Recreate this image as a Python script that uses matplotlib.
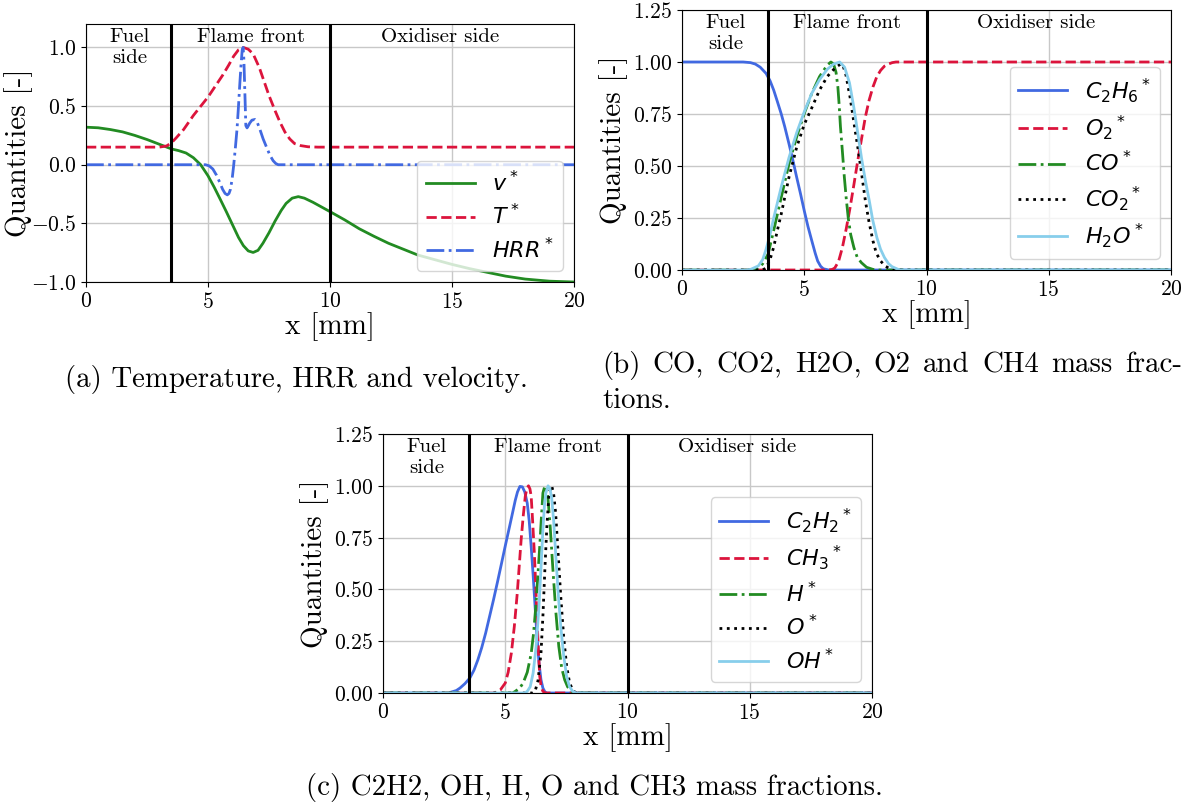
import matplotlib
matplotlib.use("Agg")
import matplotlib.pyplot as plt

plt.rcParams["font.family"] = "serif"
plt.rcParams["font.serif"] = ["cmr10"]
plt.rcParams["mathtext.fontset"] = "cm"
plt.rcParams["axes.formatter.use_mathtext"] = True
plt.rcParams["axes.unicode_minus"] = True

W, H = 1190, 809

# ── data: (a) temperature, HRR, velocity ─────────────────────────────────────
x_v = [0, 0.5, 1, 1.5, 2, 2.5, 3, 3.5, 3.8, 4.1, 4.4, 4.7, 5.0, 5.25, 5.5,
       5.75, 6.0, 6.25, 6.45, 6.65, 6.85, 7.05, 7.25, 7.5, 7.75, 8.0, 8.2,
       8.45, 8.7, 8.95, 9.3, 9.65, 10.0, 10.6, 11.2, 11.8, 12.4, 13.0, 13.6,
       14.3, 15.0, 15.7, 16.5, 17.2, 18.0, 19.0, 20.0]
v_star = [0.32, 0.315, 0.30, 0.28, 0.25, 0.215, 0.175, 0.135, 0.12, 0.10,
          0.06, 0.0, -0.094, -0.19, -0.294, -0.40, -0.51, -0.62, -0.69,
          -0.735, -0.748, -0.73, -0.67, -0.58, -0.48, -0.39, -0.33, -0.285,
          -0.272, -0.285, -0.32, -0.36, -0.40, -0.47, -0.546, -0.61, -0.67,
          -0.72, -0.77, -0.81, -0.85, -0.885, -0.92, -0.95, -0.975, -0.993,
          -1.0]

x_T = [0, 3.0, 3.3, 3.5, 3.7, 4.0, 4.4, 5.0, 5.6, 5.85, 6.05, 6.25, 6.45,
       6.65, 6.85, 7.1, 7.3, 7.5, 7.75, 7.95, 8.15, 8.35, 8.55, 8.8, 9.1,
       9.5, 20]
T_star = [0.15, 0.15, 0.16, 0.186, 0.23, 0.30, 0.42, 0.577, 0.763, 0.85,
          0.925, 0.98, 1.0, 0.985, 0.945, 0.83, 0.71, 0.59, 0.46, 0.363, 0.28,
          0.22, 0.18, 0.163, 0.153, 0.15, 0.15]

x_hrr = [0, 4.9, 5.05, 5.2, 5.35, 5.48, 5.6, 5.7, 5.79, 5.86, 5.92, 5.99,
         6.05, 6.12, 6.19, 6.25, 6.3, 6.35, 6.4, 6.44, 6.47, 6.49, 6.52, 6.55,
         6.6, 6.66, 6.71, 6.8, 6.92, 7.02, 7.12, 7.26, 7.4, 7.54, 7.67, 7.78,
         7.88, 20]
hrr_star = [0, 0, -0.01, -0.037, -0.09, -0.15, -0.21, -0.245, -0.257, -0.245,
            -0.21, -0.12, -0.01, 0.14, 0.306, 0.5, 0.677, 0.84, 0.977, 1.0,
            0.9, 0.76, 0.55, 0.334, 0.314, 0.335, 0.355, 0.38, 0.386, 0.36,
            0.306, 0.22, 0.149, 0.08, 0.034, 0.01, 0, 0]

# ── data: (b) major species ──────────────────────────────────────────────────
x_c2h6 = [0, 2.5, 2.8, 3.0, 3.2, 3.44, 3.6, 3.75, 3.9, 4.06, 4.2, 4.375, 4.53,
          4.69, 4.85, 5.0, 5.15, 5.31, 5.45, 5.55, 5.67, 5.78, 6.0, 20]
c2h6 = [1.0, 1.0, 0.997, 0.99, 0.975, 0.945, 0.91, 0.865, 0.81, 0.75, 0.69,
        0.607, 0.53, 0.446, 0.365, 0.285, 0.21, 0.14, 0.08, 0.043, 0.018,
        0.006, 0, 0]

x_o2 = [0, 6.0, 6.15, 6.25, 6.4, 6.56, 6.72, 6.875, 7.03, 7.19, 7.35, 7.5,
        7.65, 7.81, 7.97, 8.125, 8.28, 8.44, 8.6, 8.75, 20]
o2 = [0, 0, 0.003, 0.01, 0.04, 0.108, 0.20, 0.30, 0.41, 0.527, 0.635, 0.736,
      0.815, 0.88, 0.93, 0.96, 0.98, 0.99, 0.997, 1.0, 1.0]

x_co = [0, 3.0, 3.125, 3.3, 3.52, 3.75, 4.06, 4.375, 4.69, 5.0, 5.31, 5.625,
        5.94, 6.09, 6.2, 6.3, 6.375, 6.43, 6.48, 6.56, 6.64, 6.72, 6.8, 6.9,
        7.03, 7.17, 7.34, 7.55, 7.81, 8.0, 20]
co = [0, 0, 0.01, 0.03, 0.076, 0.19, 0.35, 0.51, 0.64, 0.752, 0.85, 0.93,
      0.985, 1.0, 0.99, 0.95, 0.88, 0.79, 0.69, 0.57, 0.446, 0.34, 0.25, 0.17,
      0.108, 0.06, 0.035, 0.013, 0.003, 0, 0]

x_co2 = [0, 3.3, 3.44, 3.6, 3.75, 3.9, 4.06, 4.375, 4.69, 5.0, 5.31, 5.625,
         5.94, 6.25, 6.48, 6.58, 6.7, 6.875, 7.03, 7.19, 7.35, 7.5, 7.65,
         7.81, 7.95, 8.125, 8.3, 8.44, 8.7, 20]
co2 = [0, 0, 0.01, 0.05, 0.11, 0.19, 0.27, 0.446, 0.59, 0.70, 0.78, 0.865,
       0.93, 0.97, 0.99, 0.985, 0.94, 0.83, 0.71, 0.59, 0.46, 0.333, 0.23,
       0.14, 0.08, 0.043, 0.02, 0.01, 0, 0]

x_h2o = [0, 2.6, 2.81, 3.125, 3.3, 3.44, 3.6, 3.75, 4.06, 4.375, 4.69, 5.0,
         5.31, 5.625, 5.94, 6.2, 6.45, 6.65, 6.85, 7.03, 7.2, 7.34, 7.5, 7.66,
         7.8, 7.97, 8.12, 8.28, 8.45, 8.59, 8.9, 20]
h2o = [0, 0, 0.003, 0.02, 0.05, 0.10, 0.17, 0.25, 0.40, 0.54, 0.66, 0.76,
       0.85, 0.915, 0.965, 0.99, 1.0, 0.975, 0.90, 0.78, 0.65, 0.54, 0.43,
       0.333, 0.24, 0.156, 0.10, 0.06, 0.03, 0.016, 0, 0]

# ── data: (c) minor species ──────────────────────────────────────────────────
x_c2h2 = [0, 2.67, 3.0, 3.15, 3.35, 3.55, 3.72, 3.88, 4.04, 4.2, 4.36, 4.52,
          4.69, 4.85, 5.01, 5.17, 5.3, 5.41, 5.5, 5.6, 5.7, 5.8, 5.9, 5.98,
          6.06, 6.14, 6.22, 6.3, 6.38, 6.46, 6.54, 6.62, 6.7, 20]
c2h2 = [0, 0, 0.012, 0.024, 0.045, 0.072, 0.11, 0.16, 0.22, 0.29, 0.37, 0.45,
        0.54, 0.627, 0.715, 0.80, 0.87, 0.93, 0.97, 0.997, 0.995, 0.97, 0.916,
        0.83, 0.707, 0.57, 0.418, 0.27, 0.145, 0.065, 0.024, 0.006, 0, 0]

x_ch3 = [0, 4.5, 4.6, 4.8, 5.0, 5.12, 5.25, 5.37, 5.49, 5.57, 5.65, 5.74,
         5.82, 5.89, 5.95, 6.01, 6.06, 6.12, 6.19, 6.25, 6.3, 6.36, 6.41,
         6.47, 6.54, 6.65, 20]
ch3 = [0, 0, 0.003, 0.015, 0.048, 0.10, 0.193, 0.32, 0.48, 0.61, 0.74, 0.86,
       0.95, 0.99, 1.0, 0.985, 0.95, 0.83, 0.675, 0.51, 0.354, 0.20, 0.08,
       0.03, 0.008, 0, 0]

x_h = [0, 5.3, 5.41, 5.6, 5.73, 5.9, 6.06, 6.16, 6.25, 6.33, 6.41, 6.48, 6.54,
       6.62, 6.68, 6.74, 6.84, 6.95, 7.07, 7.19, 7.31, 7.43, 7.55, 7.67, 7.8,
       20]
h_rad = [0, 0, 0.008, 0.025, 0.048, 0.10, 0.19, 0.29, 0.418, 0.56, 0.707,
         0.85, 0.965, 1.0, 0.985, 0.95, 0.80, 0.595, 0.39, 0.225, 0.12, 0.064,
         0.03, 0.013, 0, 0]

x_o = [0, 6.1, 6.22, 6.34, 6.46, 6.54, 6.62, 6.7, 6.79, 6.9, 6.98, 7.06, 7.16,
       7.27, 7.39, 7.51, 7.63, 7.76, 7.9, 20]
o_rad = [0, 0, 0.008, 0.06, 0.19, 0.37, 0.595, 0.80, 0.965, 1.0, 0.96, 0.87,
         0.68, 0.466, 0.27, 0.13, 0.05, 0.013, 0, 0]

x_oh = [0, 5.8, 5.9, 6.02, 6.14, 6.26, 6.38, 6.46, 6.54, 6.6, 6.66, 6.75,
        6.83, 6.9, 6.98, 7.06, 7.16, 7.27, 7.39, 7.51, 7.63, 7.76, 7.9, 20]
oh = [0, 0, 0.008, 0.03, 0.096, 0.22, 0.418, 0.60, 0.788, 0.90, 0.965, 1.0,
      0.985, 0.94, 0.83, 0.675, 0.49, 0.32, 0.18, 0.08, 0.03, 0.008, 0, 0]

zone_edges = [3.5, 10.0]
zone_labels = ["Fuel\nside", "Flame front", "Oxidiser side"]
zone_x = [1.8, 6.75, 14.5]

captions = {
    "a": "(a) Temperature, HRR and velocity.",
    "b1": ["(b)", "CO,", "CO2,", "H2O,", "O2", "and", "CH4", "mass", "frac-"],
    "b2": "tions.",
    "c": "(c) C2H2, OH, H, O and CH3 mass fractions.",
}

BLUE, RED, GREEN, SKY = "royalblue", "crimson", "forestgreen", "skyblue"
LW = 2.0


def frame(rect, ylim, yticks, ylab_x):
    l, t, r, b = rect
    ax = fig.add_axes([l / W, 1 - b / H, (r - l) / W, (b - t) / H])
    ax.set_xlim(0, 20)
    ax.set_ylim(*ylim)
    ax.set_xticks([0, 5, 10, 15, 20])
    ax.set_yticks(yticks)
    ax.tick_params(labelsize=15.5)
    ax.grid(True, color="#c8c8c8", linewidth=1.0)
    ax.set_axisbelow(True)
    ax.set_xlabel("x [mm]", fontsize=21, labelpad=0)
    ax.set_ylabel("Quantities [-]", fontsize=21)
    ax.yaxis.set_label_coords(ylab_x, 0.5)
    for xe in zone_edges:
        ax.axvline(xe, color="black", linewidth=2.2, zorder=5)
    for xz, lab in zip(zone_x, zone_labels):
        ax.text(xz, 0.985, lab, transform=ax.get_xaxis_transform(),
                ha="center", va="top", fontsize=15, linespacing=1.25)
    return ax


def legend(ax):
    leg = ax.legend(loc="lower right", fontsize=16, handlelength=2.2,
                    labelspacing=0.38)
    for t in leg.get_texts():
        t.set_math_fontfamily("dejavusans")
    return leg


fig = plt.figure(figsize=(W / 100, H / 100), dpi=100)

# (a)
ax = frame((86, 24, 574, 282), (-1.0, 1.2), [-1.0, -0.5, 0.0, 0.5, 1.0], -0.108)
ax.plot(x_v, v_star, color=GREEN, lw=LW, label=r"$v^*$")
ax.plot(x_T, T_star, color=RED, lw=LW, ls="--", label=r"$T^*$")
ax.plot(x_hrr, hrr_star, color=BLUE, lw=LW, ls="-.", label=r"$HRR^*$")
legend(ax)

# (b)
ax = frame((682, 10, 1171, 270), (0, 1.25), [0, 0.25, 0.5, 0.75, 1.0, 1.25], -0.11)
ax.plot(x_c2h6, c2h6, color=BLUE, lw=LW, label=r"${C_2H_6}^*$")
ax.plot(x_o2, o2, color=RED, lw=LW, ls="--", label=r"${O_2}^*$")
ax.plot(x_co, co, color=GREEN, lw=LW, ls="-.", label=r"$CO^*$")
ax.plot(x_co2, co2, color="black", lw=LW, ls=":", label=r"${CO_2}^*$")
ax.plot(x_h2o, h2o, color=SKY, lw=LW, label=r"${H_2O}^*$")
legend(ax)

# (c)
ax = frame((383, 434, 872, 693), (0, 1.25), [0, 0.25, 0.5, 0.75, 1.0, 1.25], -0.11)
ax.plot(x_c2h2, c2h2, color=BLUE, lw=LW, label=r"${C_2H_2}^*$")
ax.plot(x_ch3, ch3, color=RED, lw=LW, ls="--", label=r"${CH_3}^*$")
ax.plot(x_h, h_rad, color=GREEN, lw=LW, ls="-.", label=r"$H^*$")
ax.plot(x_o, o_rad, color="black", lw=LW, ls=":", label=r"$O^*$")
ax.plot(x_oh, oh, color=SKY, lw=LW, label=r"$OH^*$")
legend(ax)

# captions
CAP = 20.8
fig.text(296 / W, 1 - 379 / H, captions["a"], ha="center", va="center", fontsize=CAP)
fig.text(594 / W, 1 - 787 / H, captions["c"], ha="center", va="center", fontsize=CAP)

# (b) caption is justified over two lines like the LaTeX source
words = [fig.text(0, 1 - 365 / H, w, va="center", fontsize=CAP) for w in captions["b1"]]
fig.canvas.draw()
rend = fig.canvas.get_renderer()
widths = [t.get_window_extent(rend).width for t in words]
x0, x1 = 602, 1182
gap = (x1 - x0 - sum(widths)) / (len(words) - 1)
xpos = x0
for t, w in zip(words, widths):
    t.set_x(xpos / W)
    xpos += w + gap
fig.text(x0 / W, 1 - 401 / H, captions["b2"], va="center", fontsize=CAP)

fig.savefig("out.png", dpi=100)
